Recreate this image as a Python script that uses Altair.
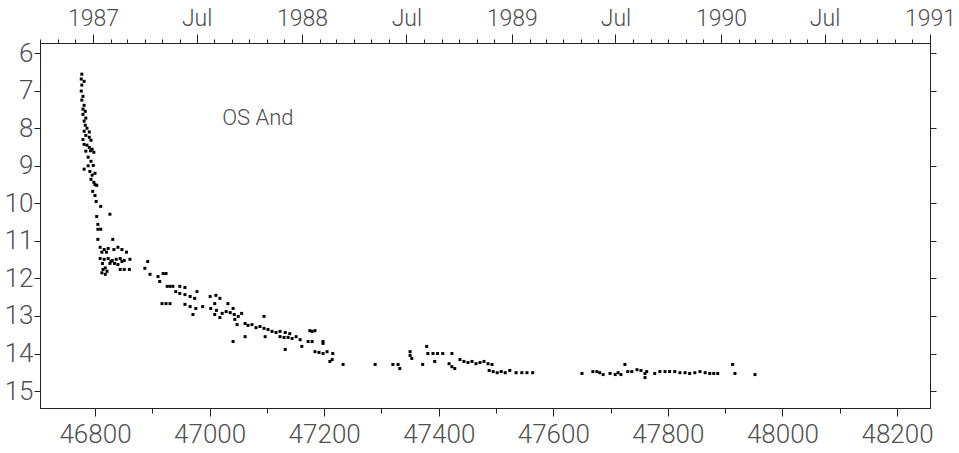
import altair as alt
import pandas as pd

jd = [
    46777, 46776, 46781, 46777, 46776, 46779, 46777, 46781, 46779, 46779,
    46784, 46781, 46783, 46786, 46781, 46784, 46790, 46793, 46781, 46790,
    46795, 46798, 46784, 46788, 46793, 46797, 46781, 46791, 46800, 46793,
    46798, 46803, 46796, 46800, 46802, 46810, 46803, 46826, 46805, 46805,
    46810, 46805, 46831, 46809, 46816, 46823, 46833, 46840, 46847, 46809,
    46816, 46823, 46830, 46837, 46844, 46851, 46861, 46813, 46826, 46840,
    46814, 46821, 46818, 46844, 46851, 46860,
    46779, 46786, 46792, 46788, 46795, 46800, 46790, 46783,
    46812, 46820, 46828, 46834, 46818, 46812, 46847, 46855,
    46892, 46887, 46896, 46910, 46919, 46924, 46913, 46926, 46931, 46936,
    46948, 46957, 46941, 46948, 46957, 46966, 46974, 46978, 46917, 46924,
    46931, 46957, 46966, 46976, 46988, 46971, 47001, 47011, 47018, 47009,
    47002, 47012, 47009, 47022, 47029, 47036, 47043, 47050, 47056, 47032,
    47041, 47044, 47018, 47048, 47062, 47067, 47074, 47081, 47088, 47095,
    47095, 47097, 47102, 47109, 47116, 47123, 47132, 47140, 47123, 47130,
    47137, 47144, 47151, 47158, 47041, 47062, 47132, 47161, 47172, 47179,
    47179, 47175, 47184, 47184, 47191, 47198, 47205, 47198, 47198, 47214,
    47215, 47210, 47233,
    47289, 47320, 47329, 47332, 47350, 47350, 47353, 47372, 47379, 47381,
    47390, 47398, 47407, 47393, 47423, 47418, 47423, 47428, 47437, 47444,
    47451, 47458, 47465, 47472, 47479, 47486, 47493, 47488, 47495, 47502,
    47509, 47516, 47524, 47535, 47545, 47554, 47564,
    47650, 47669, 47676, 47681, 47687, 47699, 47708, 47713, 47718, 47725,
    47730, 47737, 47746, 47753, 47760, 47760, 47763, 47777, 47786, 47795,
    47803, 47812, 47821, 47830, 47838, 47847, 47856, 47865, 47873, 47880,
    47887, 47913, 47917, 47952,
]
mag = [
    6.56, 6.69, 6.75, 6.85, 7.01, 7.15, 7.25, 7.39, 7.49, 7.63,
    7.73, 7.81, 7.92, 8.00, 8.08, 8.19, 8.24, 8.32, 8.43, 8.51,
    8.56, 8.64, 8.61, 8.77, 8.88, 8.99, 9.09, 9.15, 9.20, 9.36,
    9.44, 9.52, 9.68, 9.79, 9.95, 10.08, 10.35, 10.29, 10.56, 10.69,
    10.69, 10.96, 10.96, 11.17, 11.23, 11.20, 11.23, 11.17, 11.23, 11.47,
    11.49, 11.47, 11.52, 11.49, 11.47, 11.52, 11.49, 11.60, 11.60, 11.63,
    11.76, 11.81, 11.89, 11.76, 11.76, 11.76,
    8.30, 8.45, 8.60, 9.00, 9.25, 9.50, 8.10, 7.55,
    11.30, 11.30, 11.55, 11.60, 11.72, 11.85, 11.55, 11.30,
    11.55, 11.73, 11.89, 11.95, 11.87, 11.87, 12.08, 12.21, 12.21, 12.21,
    12.21, 12.24, 12.35, 12.40, 12.43, 12.48, 12.53, 12.35, 12.67, 12.67,
    12.67, 12.69, 12.75, 12.80, 12.75, 12.96, 12.48, 12.45, 12.53, 12.67,
    12.80, 12.85, 12.96, 12.93, 12.88, 12.91, 12.96, 13.01, 12.93, 12.67,
    12.80, 13.09, 13.04, 13.23, 13.20, 13.25, 13.23, 13.31, 13.28, 13.33,
    13.01, 13.55, 13.36, 13.41, 13.44, 13.41, 13.44, 13.47, 13.55, 13.57,
    13.57, 13.60, 13.55, 13.63, 13.68, 13.55, 13.89, 13.81, 13.68, 13.68,
    13.41, 13.39, 13.39, 13.95, 13.97, 14.00, 13.95, 13.68, 13.73, 14.16,
    14.00, 14.21, 14.29,
    14.29, 14.29, 14.29, 14.40, 13.95, 14.05, 14.13, 14.29, 13.81, 14.00,
    14.00, 14.00, 14.00, 14.21, 14.00, 14.27, 14.35, 14.40, 14.16, 14.21,
    14.24, 14.21, 14.27, 14.24, 14.21, 14.27, 14.29, 14.45, 14.48, 14.51,
    14.48, 14.51, 14.45, 14.51, 14.51, 14.51, 14.51,
    14.53, 14.48, 14.48, 14.51, 14.56, 14.53, 14.56, 14.51, 14.56, 14.29,
    14.48, 14.48, 14.43, 14.45, 14.64, 14.53, 14.48, 14.53, 14.48, 14.48,
    14.48, 14.48, 14.51, 14.51, 14.53, 14.51, 14.48, 14.51, 14.53, 14.53,
    14.53, 14.29, 14.53, 14.56,
]

# Axis tick values and labels
jd_ticks = [46800, 46900, 47000, 47100, 47200, 47300, 47400, 47500,
            47600, 47700, 47800, 47900, 48000, 48100, 48200]
mag_ticks = [6, 7, 8, 9, 10, 11, 12, 13, 14, 15]
month_starts = [
    46704.5, 46735.5, 46765.5,
    46796.5, 46827.5, 46855.5, 46886.5, 46916.5, 46947.5,
    46977.5, 47008.5, 47039.5, 47069.5, 47100.5, 47130.5,
    47161.5, 47192.5, 47221.5, 47252.5, 47282.5, 47313.5,
    47343.5, 47374.5, 47405.5, 47435.5, 47466.5, 47496.5,
    47527.5, 47558.5, 47586.5, 47617.5, 47647.5, 47678.5,
    47708.5, 47739.5, 47770.5, 47800.5, 47831.5, 47861.5,
    47892.5, 47923.5, 47951.5, 47982.5, 48012.5, 48043.5,
    48073.5, 48104.5, 48135.5, 48165.5, 48196.5, 48226.5,
    48257.5,
]
year_starts = [46796.5, 47161.5, 47527.5, 47892.5, 48257.5]
year_names = ["1987", "1988", "1989", "1990", "1991"]
july_starts = [46977.5, 47343.5, 47708.5, 48073.5]
july_name = "Jul"

star_name = ["OS And"]
star_label_jd = [47022]
star_label_mag = [7.74]

x_domain = [46704, 48257.5]
y_domain = [5.73, 15.45]

FONT = "Roboto, 'Liberation Sans', sans-serif"
TXT = "#505050"
LINE = "#222222"

df = pd.DataFrame({"jd": jd, "mag": mag})
lab = pd.DataFrame({"jd": star_label_jd, "mag": star_label_mag, "name": star_name})

top_expr = ""
for v, s in zip(year_starts, year_names):
    top_expr += f"datum.value === {v} ? '{s}' : "
for v in july_starts:
    top_expr += f"datum.value === {v} ? '{july_name}' : "
top_expr += "''"
majors_top = year_starts + july_starts
top_tick_expr = "indexof([" + ",".join(str(v) for v in majors_top) + "], datum.value) >= 0 ? 9 : 4"

x_scale = alt.Scale(domain=x_domain, nice=False, zero=False)
y_scale = alt.Scale(domain=y_domain, nice=False, zero=False, reverse=True)

common = dict(grid=False, title=None, domainColor=LINE, tickColor=LINE, tickWidth=1,
              domainWidth=1, labelColor=TXT, labelFont=FONT, labelFontWeight=300,
              labelFlush=False, labelOverlap=False, labelBound=False)

points = alt.Chart(df).mark_square(size=9, color="black", opacity=1).encode(
    x=alt.X("jd:Q", scale=x_scale,
            axis=alt.Axis(orient="bottom", values=jd_ticks,
                          labelExpr="datum.value % 200 === 0 ? format(datum.value, 'd') : ''",
                          tickSize=alt.ExprRef(expr="datum.value % 200 === 0 ? 8 : 5"),
                          labelFontSize=26, labelPadding=5, **common)),
    y=alt.Y("mag:Q", scale=y_scale,
            axis=alt.Axis(orient="left", values=mag_ticks, format="d", tickSize=6,
                          labelFontSize=26, labelPadding=1, **common)),
)

label = alt.Chart(lab).mark_text(align="left", baseline="middle", font=FONT,
                                 fontSize=22, fontWeight=300, color=TXT).encode(
    x=alt.X("jd:Q", scale=x_scale,
            axis=alt.Axis(orient="top", values=month_starts, labelExpr=top_expr,
                          tickSize=alt.ExprRef(expr=top_tick_expr),
                          labelFontSize=23, labelPadding=4, **common)),
    y=alt.Y("mag:Q", scale=y_scale,
            axis=alt.Axis(orient="right", values=mag_ticks, labels=False, tickSize=6,
                          **common)),
    text="name:N",
)

chart = alt.layer(points, label).resolve_axis(x="independent", y="independent").properties(
    width=890, height=365,
    autosize="none",
    padding={"left": 40, "top": 43, "right": 29, "bottom": 45},
    background="white",
).configure_view(stroke=LINE, strokeWidth=1)

chart.save("out.html", embed_options={"renderer": "svg", "actions": False})
